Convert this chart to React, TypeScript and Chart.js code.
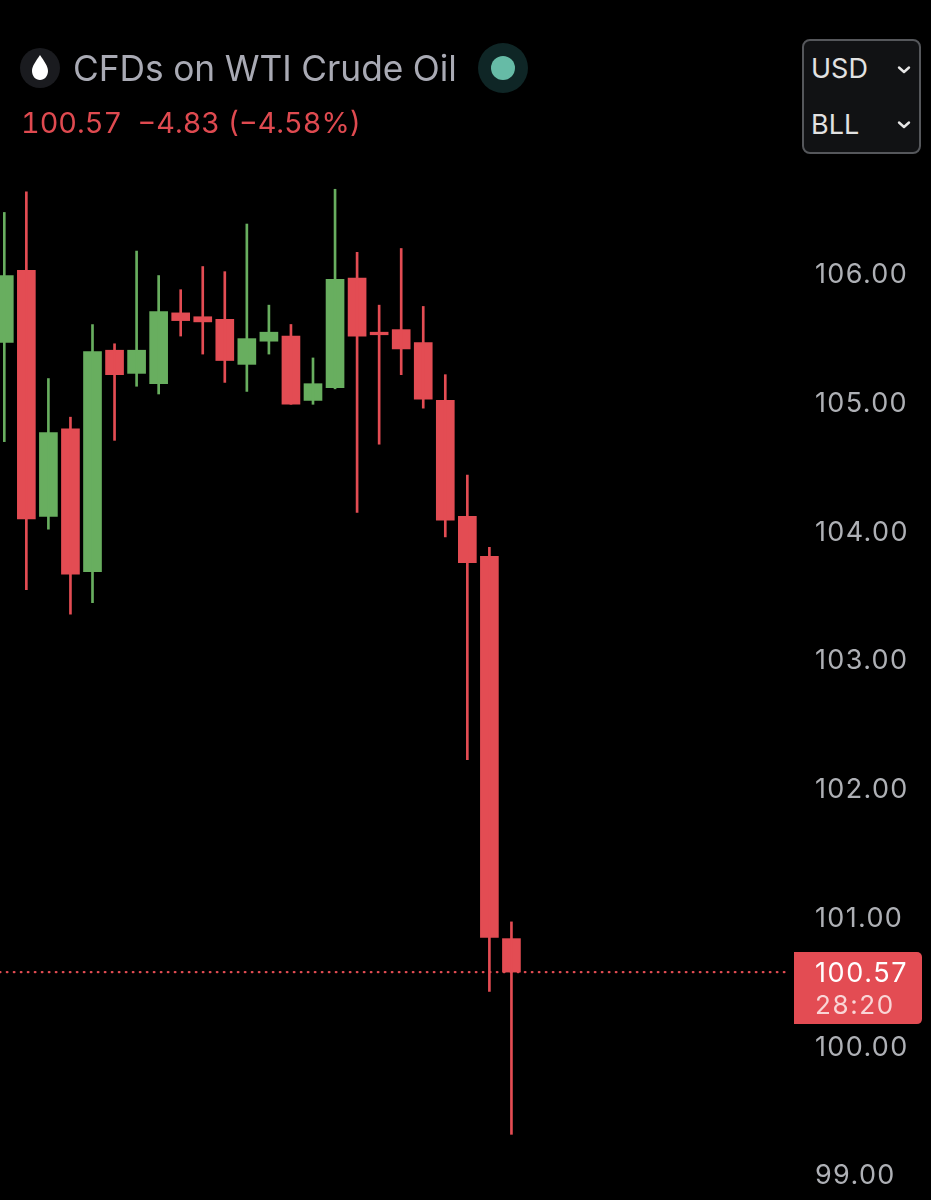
import { useEffect, useRef } from 'react';
import Chart from 'chart.js/auto';

const RED = '#e34c53';
const GREEN = '#68ae5f';

const candleIndex = [0, 1, 2, 3, 4, 5, 6, 7, 8, 9, 10, 11, 12, 13, 14, 15, 16, 17, 18, 19, 20, 21, 22, 23];
const opens = [105.46, 106.02, 104.11, 104.79, 103.68, 105.4, 105.22, 105.14, 105.69, 105.66, 105.64, 105.29, 105.47, 105.51, 105.01, 105.11, 105.96, 105.54, 105.56, 105.46, 105.01, 104.11, 103.8, 100.83];
const highs = [106.47, 106.63, 105.18, 104.88, 105.6, 105.45, 106.17, 105.98, 105.87, 106.05, 106.01, 106.38, 105.75, 105.6, 105.34, 106.65, 106.16, 105.75, 106.19, 105.74, 105.21, 104.43, 103.87, 100.96];
const lows = [104.69, 103.54, 104.01, 103.35, 103.44, 104.7, 105.12, 105.06, 105.51, 105.37, 105.15, 105.08, 105.37, 104.98, 104.98, 105.1, 104.14, 104.67, 105.21, 104.95, 103.95, 102.22, 100.42, 99.31];
const closes = [105.98, 104.09, 104.76, 103.66, 105.39, 105.21, 105.4, 105.7, 105.63, 105.62, 105.32, 105.49, 105.54, 104.98, 105.14, 105.95, 105.51, 105.52, 105.41, 105.02, 104.08, 103.75, 100.84, 100.57];

const priceTicks = [99, 100, 101, 102, 103, 104, 105, 106];
const lastPrice = 100.57;
const countdown = '28:20';
const priceLineRange = [-0.2, 35.6];

const candleColors = opens.map((o, i) => (closes[i] >= o ? GREEN : RED));

// canvas has no tabular figures, so widen the axis digits a little
const digitSpacingPlugin = {
  id: 'digitSpacing',
  beforeDraw(chart: any) {
    chart.ctx.letterSpacing = '1.35px';
  },
};

// price tag on the axis, follows the y scale
const priceTagPlugin = {
  id: 'priceTag',
  afterDraw(chart: any) {
    const { ctx } = chart;
    const y = chart.scales.y.getPixelForValue(lastPrice);
    ctx.save();
    ctx.fillStyle = RED;
    ctx.beginPath();
    ctx.roundRect(794, y - 20, 128, 72, [0, 5, 5, 0]);
    ctx.fill();
    ctx.textBaseline = 'middle';
    ctx.textAlign = 'left';
    ctx.fillStyle = '#ffffff';
    ctx.font = '27px Inter';
    ctx.letterSpacing = '1.6px';
    ctx.fillText(lastPrice.toFixed(2), 815, y + 2);
    ctx.fillStyle = '#f9d5d6';
    ctx.font = '26px Inter';
    ctx.fillText(countdown, 815, y + 34);
    ctx.restore();
  },
};

const Chevron = ({ top }: { top: number }) => (
  <svg width="14" height="10" style={{ position: 'absolute', left: 897, top }}>
    <path d="M2 2.5 L7 7 L12 2.5" stroke="#e6e6e6" strokeWidth="2.4" fill="none" strokeLinecap="round" strokeLinejoin="round" />
  </svg>
);

const label = (left: number, top: number, size: number, color: string) => ({
  position: 'absolute' as const,
  left,
  top,
  fontSize: size,
  lineHeight: '40px',
  color,
  whiteSpace: 'pre' as const,
  fontFamily: 'Inter, sans-serif',
  fontVariantNumeric: 'tabular-nums',
});

const App = () => {
  const canvasRef = useRef<HTMLCanvasElement | null>(null);

  useEffect(() => {
    if (!canvasRef.current) return;
    const chart = new Chart(canvasRef.current, {
      data: {
        datasets: [
          {
            type: 'bar',
            label: 'Wicks',
            data: candleIndex.map(i => ({ x: i, y: [lows[i], highs[i]] })),
            backgroundColor: candleColors,
            barThickness: 2,
            grouped: false,
            borderWidth: 0,
          },
          {
            type: 'bar',
            label: 'Bodies',
            data: candleIndex.map(i => ({ x: i, y: [opens[i], closes[i]] })),
            backgroundColor: candleColors,
            barThickness: 18,
            grouped: false,
            borderWidth: 0,
          },
          {
            type: 'line',
            label: 'Last price',
            data: priceLineRange.map(x => ({ x, y: lastPrice })),
            borderColor: RED,
            borderWidth: 2.4,
            borderCapStyle: 'round',
            borderDash: [0.5, 6.5],
            pointRadius: 0,
          },
        ],
      } as any,
      options: {
        animation: false,
        responsive: false,
        layout: { padding: 0, autoPadding: false },
        plugins: { legend: { display: false }, tooltip: { enabled: false }, title: { display: false } },
        scales: {
          x: { type: 'linear', display: false, min: -0.195, max: 35.86, offset: false },
          y: {
            type: 'linear',
            position: 'right',
            min: 98.8,
            max: 108.12,
            grid: { display: false, drawTicks: false },
            border: { display: false },
            afterBuildTicks: (scale: any) => {
              scale.ticks = priceTicks.map(value => ({ value }));
            },
            afterFit: (scale: any) => {
              scale.width = 136;
              scale.paddingTop = 0;
              scale.paddingBottom = 0;
            },
            ticks: {
              color: '#aeb0b5',
              padding: 20,
              labelOffset: 2,
              font: { family: 'Inter', size: 27 },
              callback: (v: any) => Number(v).toFixed(2),
            },
          },
        },
      } as any,
      plugins: [digitSpacingPlugin, priceTagPlugin],
    });
    return () => chart.destroy();
  }, []);

  return (
    <div style={{ position: 'absolute', left: 0, top: 0, width: 931, height: 1200, background: '#000', overflow: 'hidden' }}>
      <canvas ref={canvasRef} width={931} height={1200} style={{ position: 'absolute', left: 0, top: 0 }} />

      <svg width="60" height="60" style={{ position: 'absolute', left: 10, top: 38 }}>
        <circle cx="30" cy="30" r="20" fill="#1a1b1f" />
        <path d="M30 17 C34 23 38 28 38 33 C38 38 34.5 42 30 42 C25.5 42 22 38 22 33 C22 28 26 23 30 17 Z" fill="#fff" />
      </svg>
      <div style={label(73, 49, 35.3, '#a9aab4')}>CFDs on WTI Crude Oil</div>
      <svg width="60" height="60" style={{ position: 'absolute', left: 473, top: 38 }}>
        <circle cx="30" cy="30" r="25" fill="#0f2626" />
        <circle cx="30" cy="30" r="12" fill="#66bba6" />
      </svg>
      <div style={label(21, 103, 28.8, '#df4a50')}>{'100.57  −4.83 (−4.58%)'}</div>

      <div style={{ position: 'absolute', left: 802, top: 39, width: 115, height: 111, border: '2px solid #55575b', borderRadius: 8, background: '#111214' }} />
      <div style={label(811, 49, 27, '#e2e2e2')}>USD</div>
      <Chevron top={65} />
      <div style={label(811, 105, 27, '#e2e2e2')}>BLL</div>
      <Chevron top={120} />
    </div>
  );
};

export default App;
